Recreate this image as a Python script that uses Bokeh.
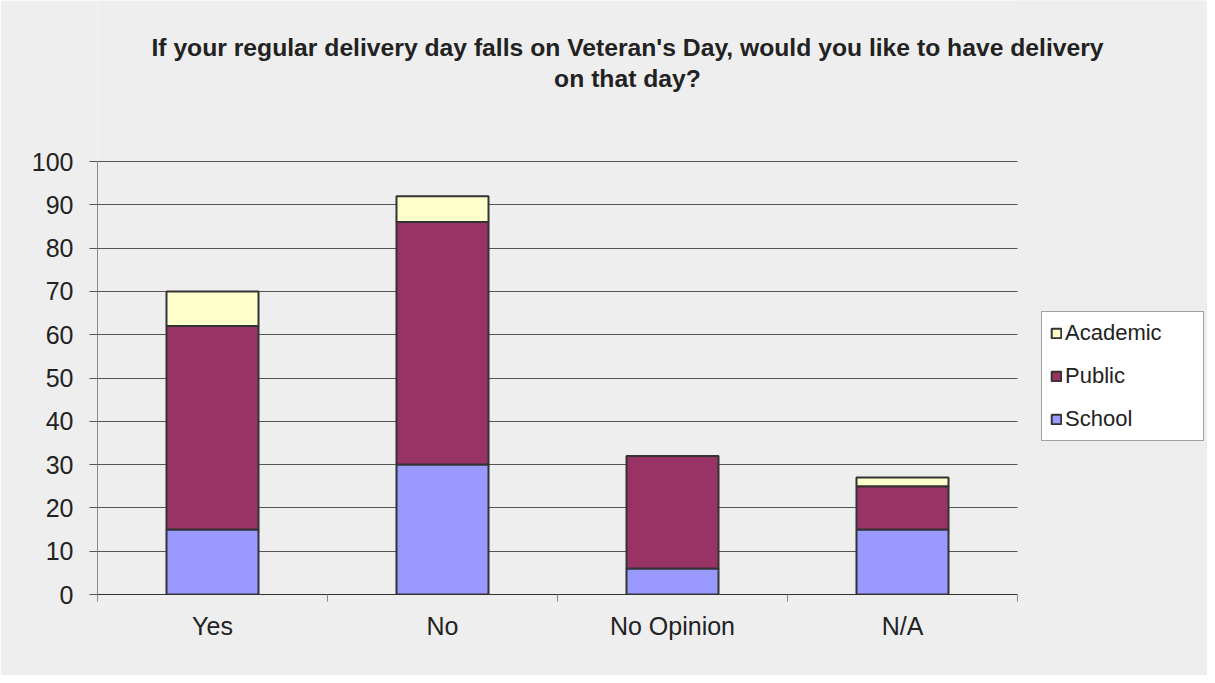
from bokeh.plotting import figure
from bokeh.models import Range1d, FixedTicker, Legend, LegendItem, ColumnDataSource, Label, BoxAnnotation
from bokeh.embed import file_html
from bokeh.resources import INLINE

# ---- data ----
categories = ["Yes", "No", "No Opinion", "N/A"]
series = ["School", "Public", "Academic"]
school = [15, 30, 6, 15]
public = [47, 56, 26, 10]
academic = [8, 6, 0, 2]
colors = ["#9999FF", "#993366", "#FFFFCC"]
y_ticks = list(range(0, 101, 10))
title_text = "If your regular delivery day falls on Veteran's Day, would you like to have delivery\non that day?"

FONT = "Liberation Sans"
BG = "#EEEEEE"

# ---- layout constants (pixels) ----
W, H = 1207, 675
LEFT, BOTTOM = 97, 81
PLOT_W, PLOT_H = 920, 433          # size of the bar area
FRAME_W, FRAME_H = W - LEFT, H - BOTTOM

n = len(categories)
y_max = y_ticks[-1]
x_end = n * FRAME_W / PLOT_W
y_end = y_max * FRAME_H / PLOT_H

x_pos = [i + 0.5 for i in range(n)]
src = ColumnDataSource(dict(x=x_pos, School=school, Public=public, Academic=academic))

p = figure(width=W, height=H,
           x_range=Range1d(0, x_end), y_range=Range1d(0, y_end),
           output_backend="svg", toolbar_location=None,
           min_border_left=LEFT, min_border_right=0, min_border_top=0, min_border_bottom=BOTTOM)
p.background_fill_color = BG
p.border_fill_color = BG
p.outline_line_color = None

# grid
p.xgrid.visible = False
p.ygrid.ticker = FixedTicker(ticks=y_ticks)
p.ygrid.grid_line_color = "#555555"
p.ygrid.grid_line_width = 1

# hide grid lines to the right of the bar area
p.add_layout(BoxAnnotation(left=n, fill_color=BG, fill_alpha=1, line_color=None))

rs = p.vbar_stack(series, x="x", width=0.4, source=src, fill_color=colors,
                  line_color="#333333", line_width=2)

# y axis
ya = p.yaxis[0]
ya.ticker = FixedTicker(ticks=y_ticks)
ya.bounds = (0, y_max)
ya.axis_line_color = "#888888"
ya.major_tick_out = 8
ya.major_tick_in = 0
ya.major_tick_line_color = "#555555"
ya.minor_tick_line_color = None
ya.major_label_text_font = FONT
ya.major_label_text_font_size = "25px"
ya.major_label_text_color = "#222222"
ya.major_label_standoff = 16

# x axis
xa = p.xaxis[0]
xa.ticker = FixedTicker(ticks=x_pos, minor_ticks=list(range(n + 1)))
xa.bounds = (0, n)
xa.major_label_overrides = {xv: c for xv, c in zip(x_pos, categories)}
xa.axis_line_color = "#333333"
xa.major_tick_line_color = None
xa.major_tick_out = 0
xa.major_tick_in = 0
xa.minor_tick_out = 7
xa.minor_tick_in = 0
xa.minor_tick_line_color = "#888888"
xa.major_label_text_font = FONT
xa.major_label_text_font_size = "25px"
xa.major_label_text_color = "#222222"
xa.major_label_standoff = 10

# title
p.add_layout(Label(x=530, y=561, x_units="screen", y_units="screen", text=title_text,
                   text_align="center", text_baseline="top",
                   text_font=FONT, text_font_size="24.7px", text_font_style="bold",
                   text_color="#222222", text_line_height=1.18))

# legend
items = [LegendItem(label=s, renderers=[r]) for s, r in zip(series, rs)][::-1]
legend = Legend(items=items, location=(944, 153))
legend.border_line_color = "#444444"
legend.border_line_width = 1
legend.background_fill_color = "white"
legend.background_fill_alpha = 1
legend.label_text_font = FONT
legend.label_text_font_size = "22px"
legend.label_text_color = "#222222"
legend.glyph_width = 12
legend.glyph_height = 12
legend.label_standoff = 3
legend.spacing = 17
legend.padding = 8
legend.label_width = 130
legend.margin = 0
p.add_layout(legend)

open("out.html", "w").write(file_html(p, INLINE))
